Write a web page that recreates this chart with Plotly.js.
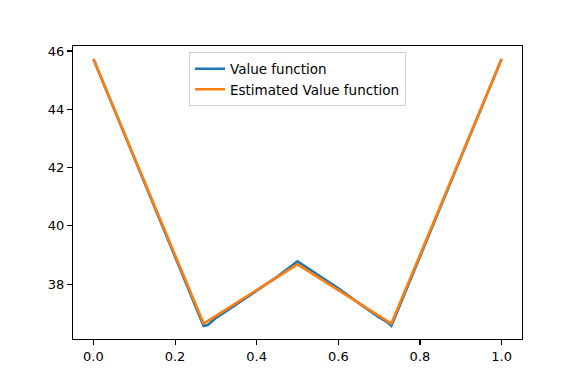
<!DOCTYPE html>
<html>
<head>
<meta charset="utf-8">
<script src="https://cdn.plot.ly/plotly-3.0.1.min.js"></script>
<style>
  body { margin: 0; background: #fff; }
  #chart { width: 581px; height: 388px; }
</style>
</head>
<body>
<div id="chart"></div>
<script>
// true value function
var xTrue = [0, 0.27, 0.28, 0.30, 0.33, 0.36, 0.40, 0.45, 0.50, 0.55, 0.60, 0.65, 0.68, 0.70, 0.72, 0.73, 1.0];
var vTrue = [45.72, 36.57, 36.60, 36.84, 37.12, 37.40, 37.77, 38.25, 38.78, 38.32, 37.86, 37.35, 37.05, 36.86, 36.70, 36.57, 45.72];

// estimated value function (orange)
var xEst = [0, 0.27, 0.50, 0.73, 1.0];
var vEst = [45.72, 36.65, 38.68, 36.65, 45.72];

var xTicks = [0, 0.2, 0.4, 0.6, 0.8, 1.0];
var yTicks = [38, 40, 42, 44, 46];

var traces = [
    {
        x: xTrue,
        y: vTrue,
        mode: 'lines',
        type: 'scatter',
        name: 'Value function',
        line: { color: '#1f77b4', width: 2.6 }
    },
    {
        x: xEst,
        y: vEst,
        mode: 'lines',
        type: 'scatter',
        name: 'Estimated Value function',
        line: { color: '#ff7f0e', width: 2.6 }
    }
];

var axisStyle = {
    showgrid: false,
    zeroline: false,
    showline: true,
    mirror: true,
    linecolor: '#000',
    linewidth: 1.1,
    ticks: 'outside',
    ticklen: 5,
    tickwidth: 1.1,
    tickcolor: '#000',
    tickfont: { family: 'DejaVu Sans', size: 13, color: '#000' }
};

var layout = {
    width: 581,
    height: 388,
    margin: { l: 73, r: 59, t: 46, b: 49 },
    paper_bgcolor: '#fff',
    plot_bgcolor: '#fff',
    font: { family: 'DejaVu Sans', size: 13, color: '#000' },
    xaxis: Object.assign({}, axisStyle, {
        range: [-0.05, 1.05],
        tickvals: xTicks,
        tickformat: '.1f'
    }),
    yaxis: Object.assign({}, axisStyle, {
        range: [36.12, 46.17],
        tickvals: yTicks
    }),
    legend: {
        x: 0.5,
        xanchor: 'center',
        y: 0.978,
        yanchor: 'top',
        bgcolor: 'rgba(255,255,255,0.8)',
        bordercolor: '#d0d0d0',
        borderwidth: 1,
        itemwidth: 30,
        font: { family: 'DejaVu Sans', size: 13.5, color: '#000' }
    },
    showlegend: true
};

Plotly.newPlot('chart', traces, layout, { staticPlot: true });
</script>
</body>
</html>
